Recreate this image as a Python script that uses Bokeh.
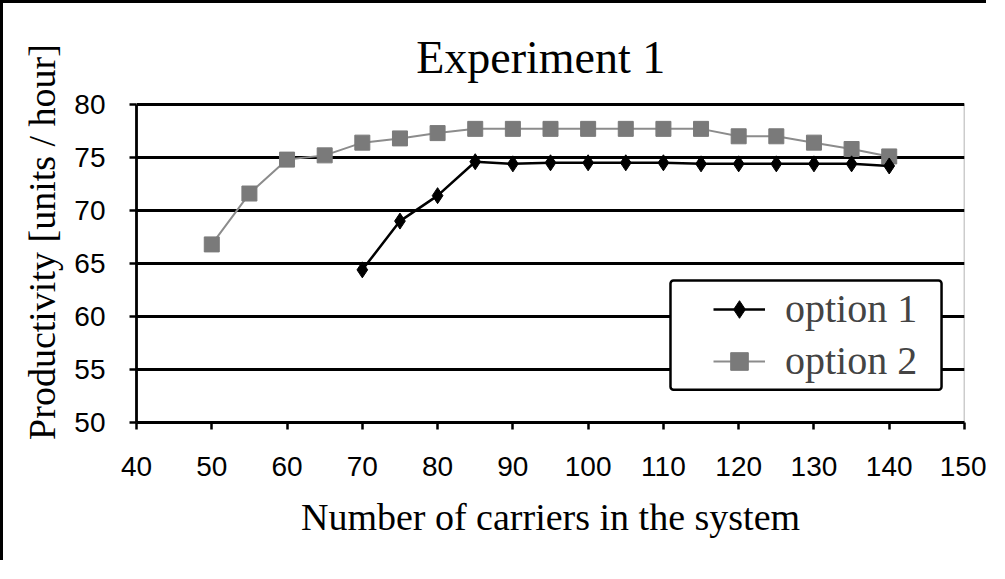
from bokeh.plotting import figure
from bokeh.models import Range1d, FixedTicker, Legend, LegendItem, BoxAnnotation, Label
from bokeh.embed import file_html
from bokeh.resources import INLINE

# ---- data ----
x_opt1 = [70, 75, 80, 85, 90, 95, 100, 105, 110, 115, 120, 125, 130, 135, 140]
y_opt1 = [64.4, 69.0, 71.4, 74.6, 74.4, 74.5, 74.5, 74.5, 74.5, 74.4, 74.4, 74.4, 74.4, 74.4, 74.2]
x_opt2 = [50, 55, 60, 65, 70, 75, 80, 85, 90, 95, 100, 105, 110, 115, 120, 125, 130, 135, 140]
y_opt2 = [66.8, 71.6, 74.8, 75.2, 76.4, 76.8, 77.3, 77.7, 77.7, 77.7, 77.7, 77.7, 77.7, 77.7, 77.0, 77.0, 76.4, 75.8, 75.1]
x_ticks = [40, 50, 60, 70, 80, 90, 100, 110, 120, 130, 140, 150]
y_ticks = [50, 55, 60, 65, 70, 75, 80]
title_text = "Experiment 1"
x_title = "Number of carriers in the system"
y_title = "Productivity [units / hour]"
labels = ["option 1", "option 2"]

SERIF = "Liberation Serif"
SANS = "Liberation Sans"

Y0, Y1 = 50, 80          # plotted value range
Y_TOP = 87.64            # frame extends above the plot area to hold the title

p = figure(width=986, height=560, output_backend="svg", toolbar_location=None,
           x_range=Range1d(40, 150), y_range=Range1d(Y0, Y_TOP),
           min_border_left=133, min_border_right=25, min_border_top=20, min_border_bottom=141)
p.styles = {"border-left": "3px solid black", "border-top": "3px solid black"}

p.background_fill_color = "white"
p.border_fill_color = "white"
p.outline_line_color = None

# plot-area border (gray), drawn below the grid
area = BoxAnnotation(left=40, right=150, bottom=Y0, top=Y1, fill_alpha=0,
                     line_color="#9a9a9a", line_alpha=1.0, line_width=1.5, level="image")
p.add_layout(area)

title = Label(x=93.7, y=84.43, text=title_text, text_align="center", text_baseline="alphabetic",
              text_font=SERIF, text_font_size="46px", text_color="black")
p.add_layout(title)

p.xgrid.grid_line_color = None
p.ygrid.grid_line_color = "black"
p.ygrid.grid_line_width = 2.8
p.ygrid.ticker = FixedTicker(ticks=y_ticks)

for ax in (p.xaxis[0], p.yaxis[0]):
    ax.axis_line_color = "black"
    ax.axis_line_width = 2.8
    ax.major_tick_line_color = "black"
    ax.major_tick_line_width = 2.5
    ax.major_tick_out = 7
    ax.major_tick_in = 0
    ax.minor_tick_line_color = None
    ax.major_label_text_font = SANS
    ax.major_label_text_font_size = "28px"
    ax.major_label_text_color = "black"
    ax.axis_label_text_font = SERIF
    ax.axis_label_text_font_size = "38px"
    ax.axis_label_text_font_style = "normal"
    ax.axis_label_text_color = "black"

p.xaxis.ticker = FixedTicker(ticks=x_ticks)
p.yaxis.ticker = FixedTicker(ticks=y_ticks)
p.yaxis.bounds = (Y0, Y1)
p.xaxis.axis_label = x_title
# a few non-breaking spaces nudge the label toward the centre of the 50-80 plot area
p.yaxis.axis_label = y_title + "\u00a0" * 4
p.xaxis.major_label_standoff = 27
p.yaxis.major_label_standoff = 24
p.xaxis.axis_label_standoff = 17
p.yaxis.axis_label_standoff = 8

l2 = p.line(x_opt2, y_opt2, line_color="#8c8c8c", line_width=2)
m2 = p.scatter(x_opt2, y_opt2, marker="square", size=15, fill_color="#7a7a7a", line_color="#7a7a7a")
l1 = p.line(x_opt1, y_opt1, line_color="black", line_width=2.5)
m1 = p.scatter(x_opt1, y_opt1, marker="diamond", size=16, fill_color="black", line_color="black")

# legend frame
box = BoxAnnotation(left=110.94, right=146.95, top=63.4, bottom=53.1,
                    fill_color="white", fill_alpha=1.0,
                    line_color="black", line_alpha=1.0, line_width=2.5, border_radius=3)
p.add_layout(box)

legend = Legend(items=[LegendItem(label=labels[0], renderers=[l1, m1]),
                       LegendItem(label=labels[1], renderers=[l2, m2])],
                location=(577, 38), padding=5, margin=0, spacing=5,
                glyph_width=52, glyph_height=44, label_height=44, label_standoff=20,
                label_text_font=SERIF, label_text_font_size="40px",
                border_line_color=None, background_fill_alpha=0)
p.add_layout(legend, "center")

open("out.html", "w").write(file_html(p, INLINE))
